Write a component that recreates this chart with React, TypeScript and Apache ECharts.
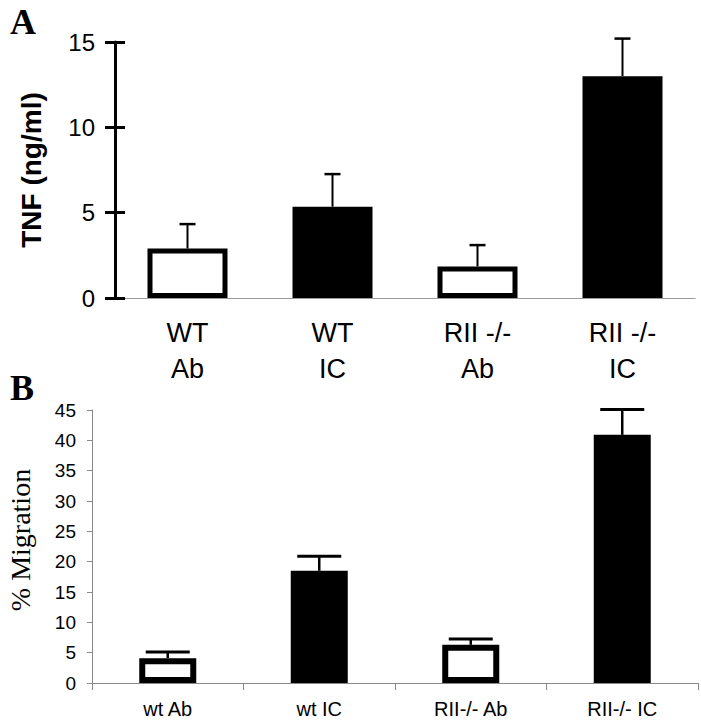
import React, { useEffect, useRef } from "react";
import * as echarts from "echarts";

// Panel A: TNF (ng/ml)
const catsA = ["WT\nAb", "WT\nIC", "RII -/-\nAb", "RII -/-\nIC"];
const valsA = [2.9, 5.35, 1.85, 13.0];
const errA = [4.33, 7.26, 3.1, 15.2];
const openA = [true, false, true, false];
const ticksA = { min: 0, max: 15, interval: 5 };

// Panel B: % Migration
const catsB = ["wt Ab", "wt IC", "RII-/- Ab", "RII-/- IC"];
const valsB = [4.1, 18.5, 6.3, 40.9];
const errB = [5.1, 20.9, 7.25, 45.1];
const openB = [true, false, true, false];
const ticksB = { min: 0, max: 45, interval: 5 };

const SANS = "'Liberation Sans', Arial, sans-serif";
const SERIF = "'Liberation Serif', 'Times New Roman', serif";

function errRender(cap: number, lw: number) {
  return (params: any, api: any) => {
    const x = api.value(0);
    const v = api.value(1);
    const e = api.value(2);
    const b = api.coord([x, v]);
    const t = api.coord([x, e]);
    return {
      type: "group",
      children: [
        {
          type: "line",
          shape: { x1: b[0], y1: b[1], x2: t[0], y2: t[1] },
          style: { stroke: "#000", lineWidth: lw },
        },
        {
          type: "line",
          shape: { x1: t[0] - cap / 2, y1: t[1], x2: t[0] + cap / 2, y2: t[1] },
          style: { stroke: "#000", lineWidth: lw + 0.5 },
        },
      ],
    };
  };
}

export default function App() {
  const ref = useRef<HTMLDivElement>(null);
  useEffect(() => {
    if (!ref.current) return;
    const chart = echarts.init(ref.current, undefined, { renderer: "svg" });
    const option: any = {
      animation: false,
      backgroundColor: "#fff",
      grid: [
        { left: 115, top: 42, width: 580, height: 256 },
        { left: 92, top: 410, width: 606, height: 273 },
      ],
      xAxis: [
        {
          type: "category",
          gridIndex: 0,
          data: catsA,
          axisLine: { lineStyle: { color: "#9a9a9a", width: 1 } },
          axisTick: { show: false },
          axisLabel: {
            color: "#000",
            fontFamily: SANS,
            fontSize: 27,
            lineHeight: 36,
            margin: 17,
          },
        },
        {
          type: "category",
          gridIndex: 1,
          data: catsB,
          axisLine: { lineStyle: { color: "#8a8a8a", width: 1 } },
          axisTick: { show: true, length: 7, lineStyle: { color: "#8a8a8a" } },
          axisLabel: {
            color: "#000",
            fontFamily: SANS,
            fontSize: 20,
            margin: 16,
          },
        },
      ],
      yAxis: [
        {
          type: "value",
          gridIndex: 0,
          ...ticksA,
          splitLine: { show: false },
          axisLine: { show: true, lineStyle: { color: "#000", width: 3 } },
          axisTick: { show: true, length: 10, lineStyle: { color: "#000", width: 3 } },
          axisLabel: { color: "#000", fontFamily: SANS, fontSize: 24, margin: 20 },
        },
        {
          type: "value",
          gridIndex: 0,
          position: "left",
          ...ticksA,
          splitLine: { show: false },
          axisLine: { show: false },
          axisTick: { show: true, inside: true, length: 10, lineStyle: { color: "#000", width: 3 } },
          axisLabel: { show: false },
        },
        {
          type: "value",
          gridIndex: 1,
          ...ticksB,
          splitLine: { show: false },
          axisLine: { show: true, lineStyle: { color: "#8a8a8a", width: 1 } },
          axisTick: { show: true, length: 5, lineStyle: { color: "#8a8a8a" } },
          axisLabel: { color: "#000", fontFamily: SANS, fontSize: 19, margin: 16 },
        },
      ],
      series: [
        {
          type: "bar",
          xAxisIndex: 0,
          yAxisIndex: 0,
          barWidth: 80,
          data: valsA.map((v, i) => ({
            value: v,
            itemStyle: {
              color: openA[i] ? "#fff" : "#000",
              borderColor: "#000",
              borderWidth: 5,
            },
          })),
        },
        {
          type: "custom",
          xAxisIndex: 0,
          yAxisIndex: 0,
          z: 5,
          renderItem: errRender(16, 2),
          encode: { x: 0, y: [1, 2] },
          data: valsA.map((v, i) => [i, v, errA[i]]),
        },
        {
          type: "bar",
          xAxisIndex: 1,
          yAxisIndex: 2,
          barWidth: 57,
          data: valsB.map((v, i) => ({
            value: v,
            itemStyle: {
              color: openB[i] ? "#fff" : "#000",
              borderColor: "#000",
              borderWidth: 6,
            },
          })),
        },
        {
          type: "custom",
          xAxisIndex: 1,
          yAxisIndex: 2,
          z: 5,
          renderItem: errRender(44, 2.5),
          encode: { x: 0, y: [1, 2] },
          data: valsB.map((v, i) => [i, v, errB[i]]),
        },
      ],
      graphic: [
        {
          type: "text",
          left: 10,
          top: 4,
          style: { text: "A", font: `bold 36px ${SERIF}`, fill: "#000" },
        },
        {
          type: "text",
          left: 10,
          top: 370,
          style: { text: "B", font: `bold 36px ${SERIF}`, fill: "#000" },
        },
        {
          type: "text",
          x: 31,
          y: 170,
          rotation: Math.PI / 2,
          style: {
            text: "TNF (ng/ml)",
            font: `bold 28px ${SANS}`,
            fill: "#000",
            textAlign: "center",
            textVerticalAlign: "middle",
          },
        },
        {
          type: "text",
          x: 20,
          y: 540,
          rotation: Math.PI / 2,
          style: {
            text: "% Migration",
            font: `28px ${SERIF}`,
            fill: "#000",
            textAlign: "center",
            textVerticalAlign: "middle",
          },
        },
      ],
    };
    chart.setOption(option);
    return () => chart.dispose();
  }, []);
  return (
    <div
      ref={ref}
      style={{ position: "fixed", left: 0, top: 0, width: 701, height: 720 }}
    />
  );
}
